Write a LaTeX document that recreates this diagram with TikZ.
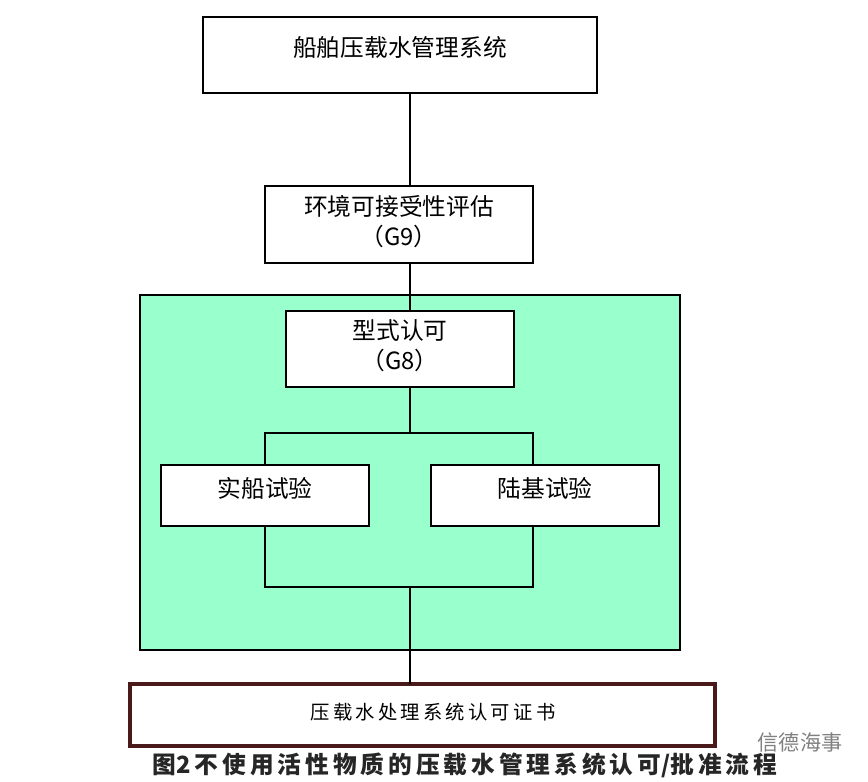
\documentclass[tikz,border=0pt]{standalone}
\usepackage{fontspec}
\setmainfont{Noto Sans CJK SC}
\newfontfamily\cjk{Noto Sans CJK SC}
\definecolor{mint}{HTML}{99FFCC}
\definecolor{darkred}{HTML}{4A1A1A}
\begin{document}
\begin{tikzpicture}[x=0.02cm,y=-0.02cm,
	stepbox/.style={draw, thick, fill=white, inner sep=0pt},
	lbl/.style={font=\fontsize{13.5}{17}\selectfont, align=center}]
	\useasboundingbox[fill=white] (0,0) rectangle (868,781);
	\draw[thick, fill=mint] (140,295) rectangle (680,650);

	\draw[stepbox] (203,17) rectangle (597,93);
	\node[lbl] (top) at (400,48) {船舶压载水管理系统};
	\draw[stepbox] (265,186) rectangle (533,263);
	\node[lbl] (env) at (399,222) {环境可接受性评估\\（G9）};
	\draw[stepbox] (286,311) rectangle (514,387);
	\node[lbl] (type) at (400,346) {型式认可\\（G8）};
	\draw[stepbox] (161,465) rectangle (369,526);
	\node[lbl] (ship) at (265,488) {实船试验};
	\draw[stepbox] (431,465) rectangle (659,526);
	\node[lbl] (land) at (545,488) {陆基试验};
	\draw[line width=2pt, draw=darkred, fill=white] (130,684) rectangle (715,746);
	\node[font=\fontsize{11}{14}\selectfont] (cert) at (433,712) {压\,载\,水\,处\,理\,系\,统\,认\,可\,证\,书};

	% connectors
	\coordinate (a) at (410,93);  \coordinate (b) at (410,186);
	\coordinate (c) at (410,263); \coordinate (d) at (410,311);
	\draw[thick] (a) -- (b) (c) -- (d);
	\draw[thick] (410,387) -- (410,433) (265,465) |- (533,433) -- (533,465);
	\draw[thick] (265,526) |- (533,587) -- (533,526) (410,587) -- (410,684);

	\node[font=\fontsize{13.5}{16}\selectfont\bfseries, text=black!85] (cap) at (465,765) {图2\,不\,使\,用\,活\,性\,物\,质\,的\,压\,载\,水\,管\,理\,系\,统\,认\,可/批\,准\,流\,程};
	\node[font=\fontsize{12}{14}\selectfont, text=gray] (wm) at (800,742) {信德海事};
\end{tikzpicture}
\end{document}
